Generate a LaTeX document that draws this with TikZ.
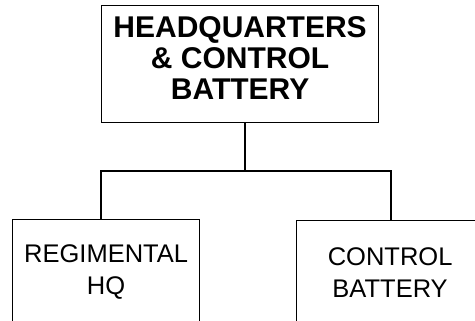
\documentclass[tikz,border=0pt]{standalone}
\usepackage{fontspec}
\setmainfont{Liberation Sans}
\usepackage{tikz}
\usetikzlibrary{positioning,calc}

\begin{document}
\begin{tikzpicture}[
    x=1bp, y=-1bp,
    line width=1.2bp,
    hqbox/.style={rectangle, draw, align=center, minimum width=277bp, minimum height=117bp, text depth=12bp, inner sep=0pt, font=\fontsize{30bp}{31bp}\selectfont\bfseries},
    unitbox/.style={rectangle, draw, align=center, minimum width=187bp, minimum height=107bp, text depth=7bp, inner sep=0pt, font=\fontsize{25.5bp}{32bp}\selectfont},
    link/.style={-, line cap=rect}
]
\useasboundingbox (0,0) rectangle (475,320);

% Headquarters
\node[hqbox, anchor=north west] (hq) at (101,5) {HEADQUARTERS\\\& CONTROL\\BATTERY};

% Subordinate units
\node[unitbox, anchor=north west] (reg) at (12,219) {REGIMENTAL\\HQ};
\node[unitbox, anchor=north west, text depth=4bp] (ctl) at (296,220) {CONTROL\\BATTERY};

% Bus
\coordinate (split) at (245,171);
\coordinate (lturn) at (101,171);
\coordinate (rturn) at (391,171);

% Lines
\draw[link] (hq.south -| split) -- (split);
\draw[link] (reg.north -| lturn) -- (lturn) -- (rturn) -- (ctl.north -| rturn);

\end{tikzpicture}
\end{document}
